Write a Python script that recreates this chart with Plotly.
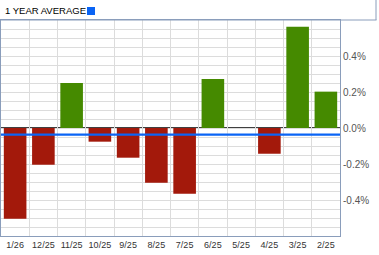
import plotly.graph_objects as go

months = ["1/26", "12/25", "11/25", "10/25", "9/25", "8/25", "7/25", "6/25", "5/25", "4/25", "3/25", "2/25"]
values = [-0.504, -0.204, 0.25, -0.076, -0.165, -0.304, -0.365, 0.272, 0.0, -0.143, 0.563, 0.202]
year_average = -0.037
y_ticks = [-0.4, -0.2, 0.0, 0.2, 0.4]
title_text = "1 YEAR AVERAGE"

RED = "#a3190b"
GREEN = "#458a00"
BLUE = "#0a64f5"
BORDER = "#8a9dbb"
GRID = "#dcdcdc"

W, H = 379, 255
L, R, T, B = 1, 39, 20, 19
PW, PH = W - L - R, H - T - B

def px_x(x):
    return (x - L) / PW

def px_y(y):
    return 1 - (y - T) / PH

colors = [GREEN if v >= 0 else RED for v in values]

fig = go.Figure()
fig.add_trace(go.Bar(x=months, y=values, marker=dict(color=colors, line=dict(width=0)),
                     width=0.8, hoverinfo="skip"))

fig.update_layout(
    width=W, height=H,
    margin=dict(l=L, r=R, t=T, b=B, autoexpand=False),
    paper_bgcolor="white", plot_bgcolor="white",
    showlegend=False,
    font=dict(family="Liberation Sans, Arial, sans-serif"),
    bargap=0.2,
)
fig.update_xaxes(
    type="category", categoryorder="array", categoryarray=months,
    tickson="boundaries", showgrid=True, gridcolor=GRID, gridwidth=1,
    ticks="", tickangle=0, automargin=False,
    tickfont=dict(size=9, color="#333333"),
    showline=True, linecolor=BORDER, linewidth=1, mirror=True,
    range=[-0.5, len(months) - 0.5], fixedrange=True,
)
fig.update_yaxes(
    range=[-0.6, 0.6], side="right", automargin=False,
    tickmode="array", tickvals=y_ticks,
    ticktext=[f"{v:.1f}%" for v in y_ticks],
    showgrid=True, gridcolor=GRID, gridwidth=1,
    minor=dict(tickmode="linear", tick0=0, dtick=0.05, showgrid=True, gridcolor=GRID, gridwidth=1),
    zeroline=False, ticks="",
    tickfont=dict(size=10, color="#555555"),
    showline=True, linecolor=BORDER, linewidth=1, mirror=True,
    fixedrange=True,
)

shapes = [
    # zero line (below bars)
    dict(type="line", xref="paper", yref="y", x0=0, x1=1, y0=0, y1=0,
         line=dict(color="black", width=1.3), layer="below"),
    # 1-year average line
    dict(type="line", xref="paper", yref="y", x0=0, x1=1, y0=year_average, y1=year_average,
         line=dict(color=BLUE, width=2.2), layer="above"),
    # title box borders
    dict(type="line", xref="paper", yref="paper", x0=px_x(0), x1=px_x(376.5), y0=px_y(20), y1=px_y(20),
         line=dict(color=BORDER, width=1)),
    dict(type="line", xref="paper", yref="paper", x0=px_x(376), x1=px_x(376), y0=px_y(0), y1=px_y(20),
         line=dict(color=BORDER, width=1)),
    # legend square
    dict(type="rect", xref="paper", yref="paper", x0=px_x(87), x1=px_x(95), y0=px_y(15), y1=px_y(7),
         fillcolor=BLUE, line=dict(width=0)),
]
fig.update_layout(shapes=shapes)

fig.add_annotation(text=title_text, xref="paper", yref="paper", x=px_x(3), y=px_y(11),
                   xanchor="left", yanchor="middle", showarrow=False,
                   font=dict(size=9.5, color="black", family="Liberation Sans, Arial, sans-serif"))

fig.write_html("out.html", config={"displayModeBar": False})
